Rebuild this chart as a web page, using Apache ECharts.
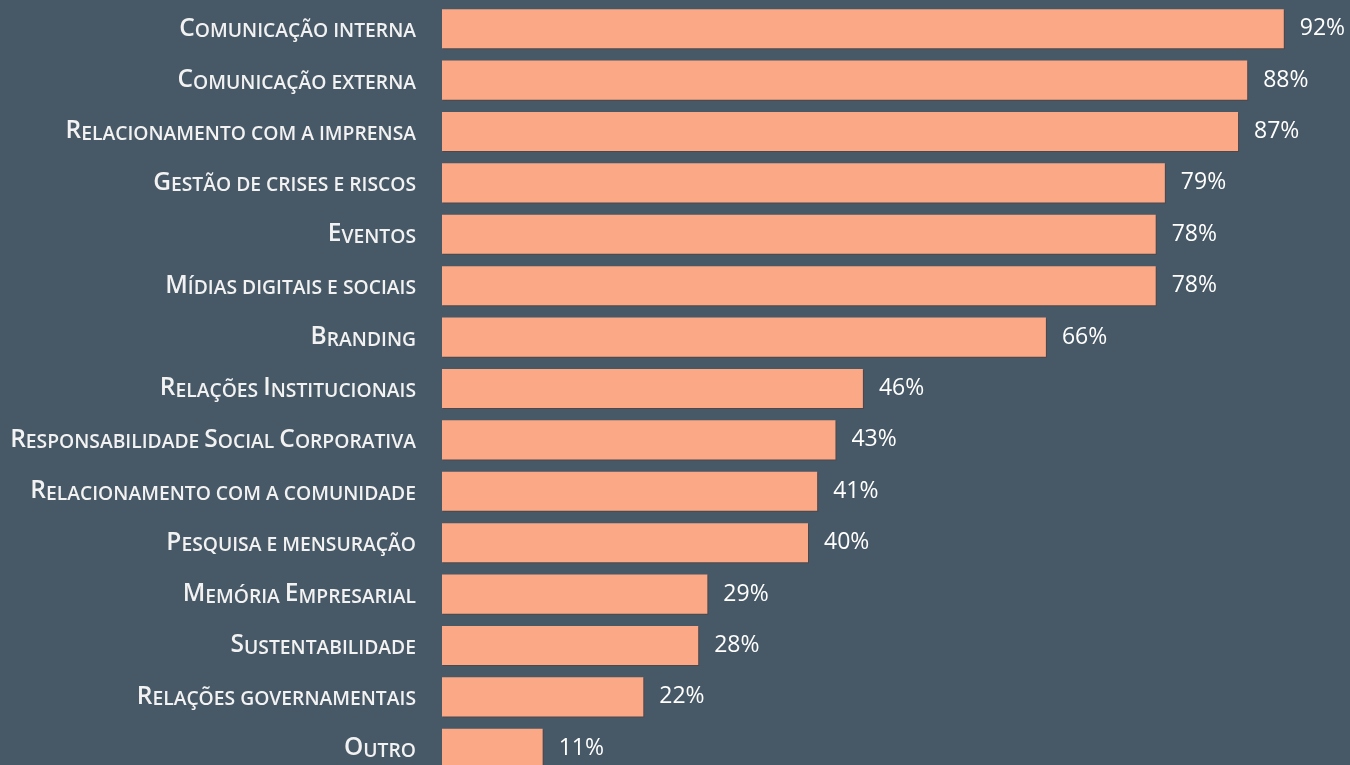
<!DOCTYPE html>
<html><head><meta charset="utf-8">
<script src="https://cdn.jsdelivr.net/npm/echarts@6/dist/echarts.min.js"></script>
<style>html,body{margin:0;padding:0;background:#475866;}#c{width:1350px;height:765px;}</style>
</head><body><div id="c"></div>
<script>
const categories = [
  "Comunicação interna",
  "Comunicação externa",
  "Relacionamento com a imprensa",
  "Gestão de crises e riscos",
  "Eventos",
  "Mídias digitais e sociais",
  "Branding",
  "Relações Institucionais",
  "Responsabilidade Social Corporativa",
  "Relacionamento com a comunidade",
  "Pesquisa e mensuração",
  "Memória Empresarial",
  "Sustentabilidade",
  "Relações governamentais",
  "Outro"
];
const values = [92, 88, 87, 79, 78, 78, 66, 46, 43, 41, 40, 29, 28, 22, 11];

function smallCaps(s) {
  let out = "", run = "", mode = null;
  const flush = () => { if (run) out += "{" + mode + "|" + (mode === "l" ? run.toUpperCase() : run) + "}"; run = ""; };
  for (const ch of s) {
    const m = (ch !== ch.toLowerCase()) ? "u" : "l";
    if (m !== mode) { flush(); mode = m; }
    run += ch;
  }
  flush();
  return out;
}

const chart = echarts.init(document.getElementById('c'));
chart.setOption({
  backgroundColor: '#475866',
  animation: false,
  grid: { left: 442, top: 3, bottom: -9, width: 915, containLabel: false, outerBoundsMode: 'none' },
  xAxis: { type: 'value', min: 0, max: 100, show: false },
  yAxis: {
    type: 'category', data: categories, inverse: true,
    axisLine: { show: false }, axisTick: { show: false },
    axisLabel: {
      margin: 26, color: '#f2f2f2',
      formatter: v => smallCaps(v),
      rich: {
        u: { fontFamily: 'Open Sans', fontWeight: 600, fontSize: 24.5, color: '#f2f2f2', verticalAlign: 'bottom' },
        l: { fontFamily: 'Open Sans', fontWeight: 600, fontSize: 19.3, color: '#f2f2f2', verticalAlign: 'bottom' }
      }
    }
  },
  series: [{
    type: 'bar', data: values, barCategoryGap: '24%',
    itemStyle: { color: '#FAA886', shadowColor: 'rgba(90,50,40,0.45)', shadowOffsetX: 1, shadowOffsetY: 1, shadowBlur: 0 },
    label: { show: true, position: 'right', distance: 16, formatter: '{c}%', color: '#ffffff', fontFamily: 'Open Sans', fontSize: 23 }
  }]
});
</script></body></html>
